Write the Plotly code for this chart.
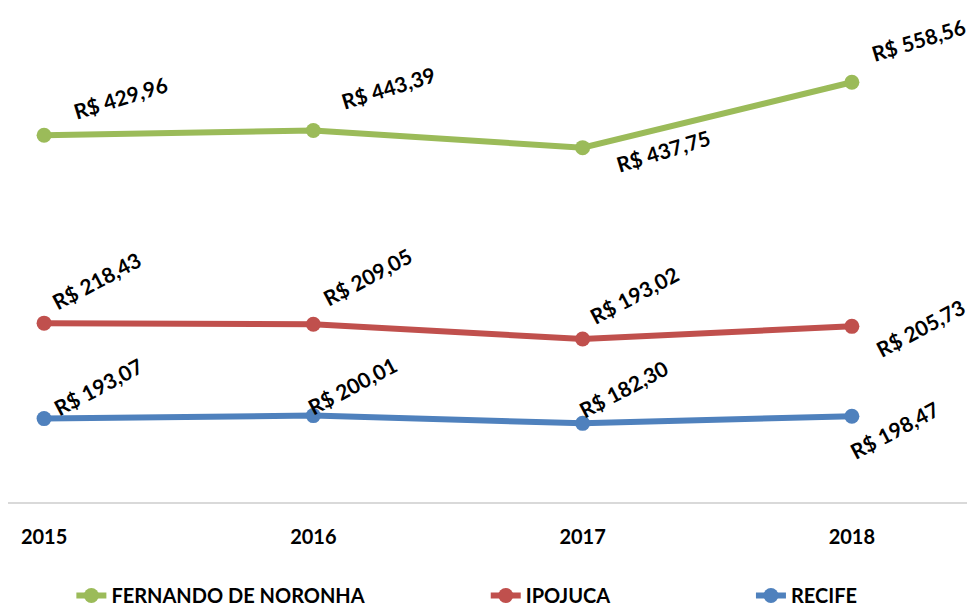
import numpy as np
import plotly.graph_objects as go

years = ["2015", "2016", "2017", "2018"]
recife = [193.07, 200.01, 182.30, 198.47]
ipojuca = [218.43, 209.05, 193.02, 205.73]
noronha = [429.96, 443.39, 437.75, 558.56]

series = [
    ("RECIFE", recife, "#4F81BD", "legend3"),
    ("IPOJUCA", ipojuca, "#C0504D", "legend2"),
    ("FERNANDO DE NORONHA", noronha, "#9BBB59", "legend"),
]

# label offsets (px) relative to each point, and angle per series
label_offsets = {
    "RECIFE": [(54, -32), (39, -30), (41, -35), (43, 13)],
    "IPOJUCA": [(52, -43), (54, -48), (52, -44), (69, 1)],
    "FERNANDO DE NORONHA": [(76, -38), (75, -43), (81, 3), (67, -43)],
}
label_angle = {"RECIFE": -28, "IPOJUCA": -28, "FERNANDO DE NORONHA": -17}

FONT = "Lato, Open Sans, sans-serif"

fig = go.Figure()
xs = list(range(len(years)))
for name, vals, color, leg in series:
    fig.add_trace(go.Scatter(
        x=xs, y=vals, name=name, mode="lines+markers", stackgroup="s", fill="none",
        line=dict(color=color, width=6), marker=dict(color=color, size=15),
        legend=leg,
    ))

cum = np.zeros(len(years))
for name, vals, color, leg in series:
    cum = cum + np.array(vals)
    for i, v in enumerate(vals):
        dx, dy = label_offsets[name][i]
        fig.add_annotation(
            x=xs[i], y=cum[i], text="R$ " + f"{v:.2f}".replace(".", ","),
            showarrow=False, textangle=label_angle[name], xshift=dx, yshift=-dy,
            font=dict(family=FONT, size=21, color="black", weight="bold"),
        )

leg_common = dict(orientation="h", yanchor="middle", y=-0.187, xanchor="left",
                  font=dict(family=FONT, size=20, color="black", weight="bold"),
                  bgcolor="rgba(0,0,0,0)", itemwidth=30)
fig.update_layout(
    width=975, height=607,
    margin=dict(l=0, r=0, t=0, b=103),
    plot_bgcolor="white", paper_bgcolor="white",
    showlegend=True,
    legend=dict(x=0.065, **leg_common),
    legend2=dict(x=0.49, **leg_common),
    legend3=dict(x=0.762, **leg_common),
    xaxis=dict(range=[-0.134, 3.487], tickvals=xs, ticktext=years, showgrid=False,
               zeroline=False, showline=False, ticks="",
               tickfont=dict(family=FONT, size=20, color="black", weight="bold")),
    yaxis=dict(range=[0, 1132.6], visible=False, showgrid=False, zeroline=False),
)
fig.add_shape(type="line", xref="paper", yref="paper", x0=0, x1=1, y0=0, y1=0,
              line=dict(color="#D9D9D9", width=2))
fig.update_xaxes(ticklabelstandoff=20)
fig.write_html("out.html")
